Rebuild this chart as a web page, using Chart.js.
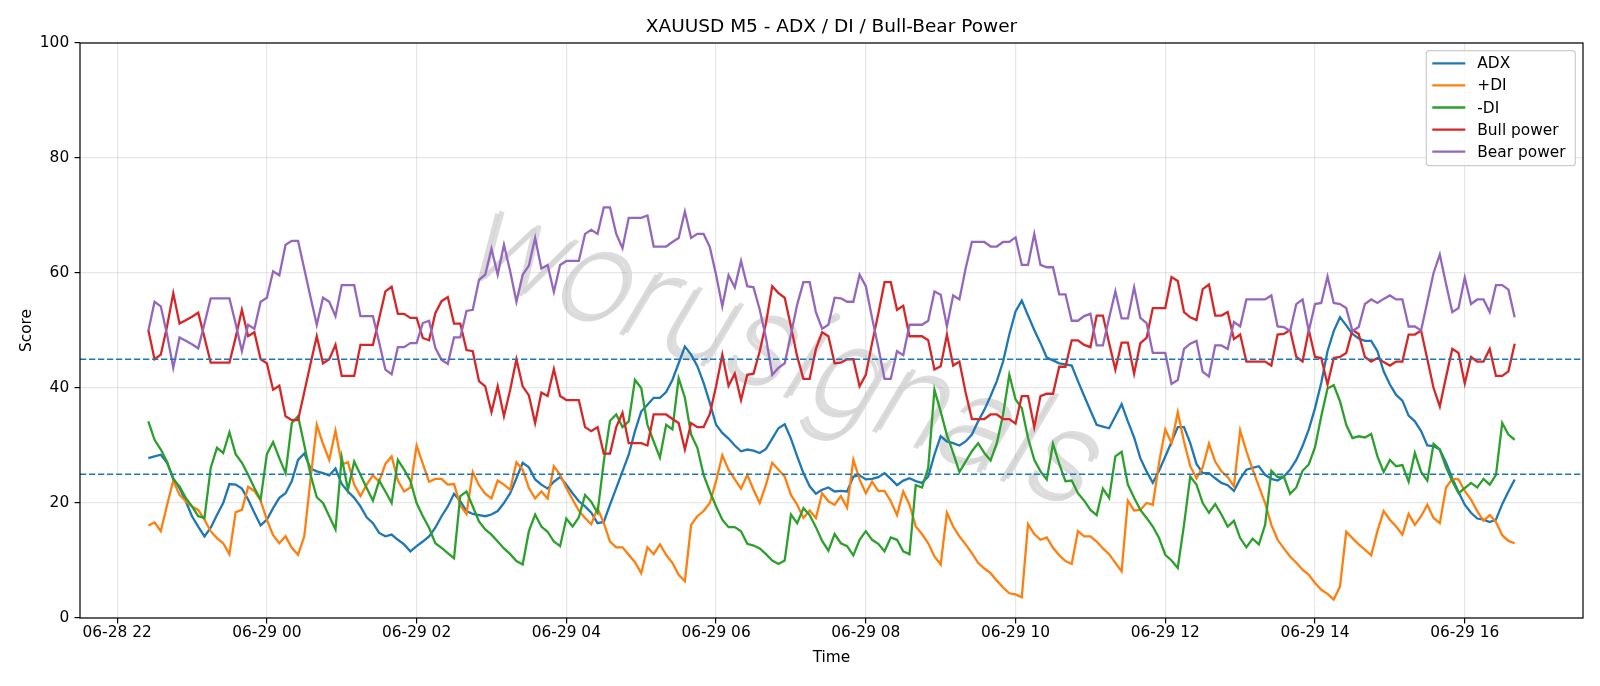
<!DOCTYPE html>
<html>
<head>
<meta charset="utf-8">
<title>XAUUSD M5 - ADX / DI / Bull-Bear Power</title>
<script src="https://cdn.jsdelivr.net/npm/chart.js@4.4.1/dist/chart.umd.min.js"></script>
<style>
  html, body { margin: 0; padding: 0; background: #fff; }
</style>
</head>
<body>
<canvas id="adxChart" width="1600" height="686"></canvas>
<script>
// time axis: hours after 06-28 22:00, first M5 bar at 22:25
var firstBar = 25 / 60;
var barStep = 5 / 60;
var tickHours = [0, 2, 4, 6, 8, 10, 12, 14, 16, 18];
var tickLabels = ["06-28 22", "06-29 00", "06-29 02", "06-29 04", "06-29 06",
                  "06-29 08", "06-29 10", "06-29 12", "06-29 14", "06-29 16"];
var levels = [45, 25];

var adx = [
  27.8, 28.1, 28.4, 27.0, 24.3, 22.6, 20.3, 17.7, 15.9, 14.2,
  15.7, 17.9, 20.0, 23.3, 23.2, 22.5, 20.6, 18.3, 16.1, 17.1,
  19.1, 20.9, 21.7, 23.8, 27.5, 28.6, 26.0, 25.5, 25.2, 24.8,
  26.0, 23.3, 22.0, 20.9, 19.4, 17.5, 16.5, 14.8, 14.2, 14.5,
  13.6, 12.8, 11.6, 12.5, 13.3, 14.2, 15.7, 17.7, 19.4, 21.6,
  20.3, 18.6, 18.1, 17.9, 17.7, 18.0, 18.6, 20.0, 21.7, 24.3,
  27.0, 26.2, 24.1, 23.2, 22.5, 23.7, 24.5, 23.2, 21.7, 20.3,
  19.4, 18.3, 16.5, 16.7, 19.7, 22.6, 25.5, 28.4, 32.5, 35.9,
  37.1, 38.3, 38.3, 39.3, 41.4, 44.3, 47.2, 45.8, 43.8, 40.9,
  37.4, 33.6, 32.2, 31.2, 30.0, 29.0, 29.3, 29.1, 28.7, 29.4,
  31.2, 33.0, 33.7, 31.2, 28.1, 25.2, 22.9, 21.6, 22.3, 22.7,
  22.0, 22.1, 22.0, 24.6, 24.8, 24.1, 24.2, 24.5, 25.2, 24.2,
  23.1, 23.9, 24.3, 23.8, 23.5, 24.6, 28.4, 31.6, 30.7, 30.4,
  30.0, 30.7, 31.9, 34.2, 36.2, 38.6, 41.2, 44.6, 49.3, 53.3,
  55.2, 52.6, 50.1, 47.8, 45.3, 44.8, 44.3, 44.1, 43.9, 41.2,
  38.6, 36.1, 33.6, 33.3, 33.0, 35.1, 37.2, 34.2, 31.4, 27.8,
  25.5, 23.5, 25.6, 28.1, 30.6, 33.2, 33.2, 30.4, 26.8, 25.2,
  25.2, 24.3, 23.5, 23.1, 22.1, 24.2, 25.8, 26.1, 26.4, 24.9,
  24.2, 23.9, 24.6, 25.8, 27.5, 29.9, 32.8, 36.5, 40.9, 46.4,
  49.9, 52.3, 50.9, 49.4, 48.6, 48.2, 48.2, 46.4, 42.9, 40.6,
  38.8, 37.8, 35.2, 34.2, 32.5, 30.0, 29.9, 29.3, 27.0, 24.3,
  21.9, 19.7, 18.3, 17.3, 17.1, 16.7, 17.1, 19.8, 22.0, 24.1
];

var plusDI = [
  16.1, 16.6, 15.1, 19.6, 23.9, 21.4, 20.3, 19.4, 18.8, 17.1,
  15.1, 13.9, 13.0, 11.1, 18.4, 18.8, 22.8, 22.1, 20.4, 17.1,
  14.4, 13.0, 14.2, 12.2, 11.0, 14.2, 24.1, 33.6, 30.3, 27.5,
  32.6, 26.7, 27.1, 23.2, 21.2, 23.2, 24.8, 23.7, 26.8, 28.1,
  23.9, 22.0, 22.7, 30.0, 26.8, 23.7, 24.2, 24.2, 23.2, 23.3,
  19.6, 18.1, 25.4, 23.1, 21.6, 20.8, 23.9, 23.2, 22.3, 27.1,
  25.8, 22.6, 20.8, 22.0, 20.8, 26.4, 24.9, 22.6, 20.6, 18.7,
  17.4, 16.3, 19.1, 16.5, 13.3, 12.3, 12.3, 11.0, 9.7, 7.8,
  12.3, 11.1, 12.8, 11.0, 9.6, 7.5, 6.4, 16.2, 17.7, 18.6,
  20.0, 23.8, 28.3, 25.8, 24.1, 22.5, 24.9, 22.3, 20.0, 23.2,
  27.0, 25.8, 24.6, 21.4, 19.7, 17.4, 18.7, 17.4, 21.7, 20.3,
  19.7, 21.2, 19.2, 27.5, 24.1, 21.7, 23.7, 22.1, 22.1, 20.3,
  17.9, 22.0, 19.7, 15.9, 14.6, 13.0, 10.7, 9.3, 18.3, 15.9,
  14.2, 12.8, 11.3, 9.6, 8.6, 7.8, 6.5, 5.3, 4.3, 4.1,
  3.6, 16.3, 14.6, 13.6, 14.0, 12.2, 10.9, 9.9, 9.4, 15.1,
  14.2, 14.2, 13.3, 12.1, 11.1, 9.6, 8.1, 20.4, 18.7, 18.8,
  20.0, 19.7, 27.0, 32.8, 30.4, 35.8, 30.7, 26.4, 24.3, 26.2,
  30.3, 27.2, 25.5, 24.5, 22.9, 32.6, 29.0, 25.8, 22.9, 20.0,
  16.2, 13.6, 12.1, 10.7, 9.6, 8.4, 7.5, 6.1, 4.9, 4.2,
  3.2, 5.5, 15.0, 13.9, 12.8, 11.9, 10.9, 15.1, 18.6, 17.1,
  15.9, 14.5, 18.1, 16.2, 17.7, 19.7, 17.4, 16.5, 22.7, 24.2,
  24.1, 22.1, 20.6, 18.6, 16.9, 17.9, 16.7, 14.4, 13.4, 13.0
];

var minusDI = [
  34.2, 31.0, 29.3, 27.2, 24.1, 22.9, 20.9, 19.4, 17.7, 17.4,
  26.1, 29.6, 28.7, 32.3, 28.5, 27.0, 24.9, 22.6, 20.6, 28.5,
  30.6, 27.8, 25.2, 33.9, 35.1, 30.1, 24.9, 21.0, 20.0, 17.7,
  15.4, 27.9, 22.3, 27.2, 24.9, 22.6, 20.4, 23.9, 22.0, 20.0,
  27.5, 25.8, 23.9, 20.0, 17.7, 15.7, 13.0, 12.2, 11.3, 10.4,
  21.2, 22.0, 19.4, 16.8, 15.4, 14.5, 13.3, 12.1, 11.1, 9.9,
  9.3, 15.1, 18.0, 15.9, 15.0, 13.3, 12.5, 17.3, 15.9, 17.5,
  21.4, 20.2, 18.3, 27.2, 34.3, 35.4, 33.2, 34.2, 41.4, 40.0,
  33.6, 30.7, 27.9, 33.6, 32.8, 41.7, 38.3, 31.9, 29.6, 24.9,
  22.0, 19.4, 17.1, 15.8, 15.8, 15.1, 12.9, 12.6, 12.1, 11.1,
  10.0, 9.4, 10.0, 18.0, 16.5, 19.1, 17.9, 15.8, 13.4, 11.7,
  14.6, 13.0, 12.5, 10.9, 13.6, 15.1, 13.6, 12.9, 11.6, 14.0,
  13.6, 11.6, 11.1, 23.1, 22.7, 26.1, 39.7, 35.9, 31.8, 28.7,
  25.4, 27.2, 29.0, 30.4, 28.7, 27.4, 30.4, 35.4, 42.3, 38.0,
  36.5, 31.3, 27.5, 25.5, 24.1, 30.3, 26.8, 23.8, 23.9, 21.7,
  20.4, 18.8, 17.9, 22.5, 20.9, 28.1, 28.9, 23.2, 20.9, 18.8,
  17.4, 15.9, 13.9, 11.0, 10.0, 8.7, 16.2, 24.6, 23.2, 20.0,
  18.3, 19.8, 18.0, 15.9, 16.9, 13.9, 12.3, 13.8, 12.8, 16.2,
  25.6, 24.5, 24.6, 21.6, 22.7, 25.6, 26.7, 29.7, 35.1, 39.9,
  40.5, 37.7, 33.6, 31.3, 31.6, 31.4, 32.0, 28.1, 25.4, 27.5,
  26.4, 26.6, 23.7, 28.7, 25.4, 23.9, 30.3, 29.3, 26.2, 23.8,
  21.7, 22.6, 23.5, 22.7, 24.2, 23.2, 24.9, 33.9, 31.9, 31.0
];

var bullPower = [
  50.1, 45.0, 45.8, 50.7, 56.5, 51.2, 51.8, 52.4, 53.1, 48.8,
  44.4, 44.4, 44.4, 44.4, 48.8, 53.6, 49.0, 49.7, 45.0, 44.3,
  39.7, 40.4, 35.1, 34.4, 34.4, 39.3, 44.2, 49.0, 44.3, 45.0,
  47.5, 42.1, 42.1, 42.1, 47.5, 47.5, 47.5, 52.1, 56.8, 57.6,
  52.9, 52.9, 52.2, 52.2, 48.7, 48.3, 53.0, 55.1, 55.8, 51.2,
  51.2, 46.6, 46.4, 41.2, 40.3, 35.8, 40.3, 35.1, 39.7, 45.0,
  40.3, 38.7, 33.9, 39.2, 38.6, 43.3, 38.6, 37.9, 37.9, 37.9,
  33.2, 32.5, 33.2, 28.6, 28.6, 33.2, 35.7, 30.4, 30.4, 30.4,
  30.0, 35.4, 35.4, 35.4, 34.6, 33.9, 29.3, 33.9, 33.2, 33.2,
  35.5, 40.3, 45.8, 40.4, 42.5, 37.9, 42.3, 42.5, 46.4, 51.3,
  57.7, 56.5, 55.7, 50.7, 45.5, 41.6, 41.6, 46.8, 49.7, 49.0,
  44.3, 44.4, 45.0, 45.0, 40.3, 42.3, 47.8, 52.9, 58.4, 58.4,
  53.6, 54.3, 49.0, 49.0, 49.0, 48.3, 43.2, 43.8, 49.3, 43.9,
  44.6, 39.2, 34.6, 34.6, 34.6, 35.4, 35.4, 34.6, 34.6, 33.8,
  38.6, 38.6, 33.2, 38.6, 39.0, 39.0, 43.7, 43.7, 48.3, 48.3,
  47.5, 47.1, 52.6, 52.6, 47.8, 43.2, 47.9, 47.9, 42.5, 47.8,
  48.7, 53.9, 53.9, 53.9, 59.3, 58.6, 53.2, 52.3, 51.8, 57.2,
  58.0, 52.6, 52.6, 53.2, 48.5, 49.3, 44.6, 44.6, 44.6, 44.6,
  43.9, 49.3, 49.4, 50.1, 45.4, 44.6, 50.1, 45.4, 45.2, 40.6,
  45.2, 45.4, 46.1, 50.1, 49.4, 45.4, 44.6, 45.2, 44.5, 43.9,
  44.6, 44.6, 49.3, 49.3, 50.0, 45.0, 40.0, 36.8, 41.9, 46.8,
  46.1, 40.8, 45.4, 44.6, 44.6, 46.8, 42.1, 42.1, 42.9, 47.7
];

var bearPower = [
  49.9, 55.0, 54.2, 49.3, 43.5, 48.8, 48.2, 47.6, 46.9, 51.2,
  55.6, 55.6, 55.6, 55.6, 51.2, 46.4, 51.0, 50.3, 55.0, 55.7,
  60.3, 59.6, 64.9, 65.6, 65.6, 60.7, 55.8, 51.0, 55.7, 55.0,
  52.5, 57.9, 57.9, 57.9, 52.5, 52.5, 52.5, 47.9, 43.2, 42.4,
  47.1, 47.1, 47.8, 47.8, 51.3, 51.7, 47.0, 44.9, 44.2, 48.8,
  48.8, 53.4, 53.6, 58.8, 59.7, 64.2, 59.7, 64.9, 60.3, 55.0,
  59.7, 61.3, 66.1, 60.8, 61.4, 56.7, 61.4, 62.1, 62.1, 62.1,
  66.8, 67.5, 66.8, 71.4, 71.4, 66.8, 64.3, 69.6, 69.6, 69.6,
  70.0, 64.6, 64.6, 64.6, 65.4, 66.1, 70.7, 66.1, 66.8, 66.8,
  64.5, 59.7, 54.2, 59.6, 57.5, 62.1, 57.7, 57.5, 53.6, 48.7,
  42.3, 43.5, 44.3, 49.3, 54.5, 58.4, 58.4, 53.2, 50.3, 51.0,
  55.7, 55.6, 55.0, 55.0, 59.7, 57.7, 52.2, 47.1, 41.6, 41.6,
  46.4, 45.7, 51.0, 51.0, 51.0, 51.7, 56.8, 56.2, 50.7, 56.1,
  55.4, 60.8, 65.4, 65.4, 65.4, 64.6, 64.6, 65.4, 65.4, 66.2,
  61.4, 61.4, 66.8, 61.4, 61.0, 61.0, 56.3, 56.3, 51.7, 51.7,
  52.5, 52.9, 47.4, 47.4, 52.2, 56.8, 52.1, 52.1, 57.5, 52.2,
  51.3, 46.1, 46.1, 46.1, 40.7, 41.4, 46.8, 47.7, 48.2, 42.8,
  42.0, 47.4, 47.4, 46.8, 51.5, 50.7, 55.4, 55.4, 55.4, 55.4,
  56.1, 50.7, 50.6, 49.9, 54.6, 55.4, 49.9, 54.6, 54.8, 59.4,
  54.8, 54.6, 53.9, 49.9, 50.6, 54.6, 55.4, 54.8, 55.5, 56.1,
  55.4, 55.4, 50.7, 50.7, 50.0, 55.0, 60.0, 63.2, 58.1, 53.2,
  53.9, 59.2, 54.6, 55.4, 55.4, 53.2, 57.9, 57.9, 57.1, 52.3
];

var FONT = "'DejaVu Sans', 'Liberation Sans', sans-serif";

// x position of every bar (hours after 06-28 22:00)
function toPoints(values) {
  var pts = [];
  for (var i = 0; i < values.length; i++) {
    pts.push({ x: firstBar + i * barStep, y: values[i] });
  }
  return pts;
}

// matplotlib-like 5% margin on the time axis
var lastBar = firstBar + (adx.length - 1) * barStep;
var xPad = (lastBar - firstBar) * 0.05;

function lineSet(label, values, color, order) {
  return {
    label: label,
    data: toPoints(values),
    borderColor: color,
    backgroundColor: color,
    borderWidth: 2.3,
    pointRadius: 0,
    tension: 0,
    fill: false,
    order: order
  };
}

// faint watermark behind the lines
var watermark = {
  id: "watermark",
  beforeDatasetsDraw: function(chart) {
    var ctx = chart.ctx, a = chart.chartArea;
    ctx.save();
    ctx.translate(a.left + (a.right - a.left) * 0.47, a.top + (a.bottom - a.top) * 0.55);
    ctx.rotate(21 * Math.PI / 180);
    ctx.font = "italic 200 130px Roboto, Lato, 'Open Sans', sans-serif";
    ctx.textAlign = "center";
    ctx.textBaseline = "middle";
    ctx.fillStyle = "rgba(90,90,90,0.22)";
    ctx.fillText("worusignals", -3, 4);
    ctx.fillStyle = "rgba(212,212,212,0.8)";
    ctx.fillText("worusignals", 0, 0);
    ctx.restore();
  }
};

// dashed reference levels 45 / 25
var levelLines = {
  id: "levelLines",
  afterDatasetsDraw: function(chart) {
    var ctx = chart.ctx, a = chart.chartArea, y = chart.scales.y;
    ctx.save();
    ctx.strokeStyle = "#1f77b4";
    ctx.lineWidth = 1.6;
    ctx.setLineDash([6.3, 2.7]);
    levels.forEach(function(v) {
      var py = y.getPixelForValue(v);
      ctx.beginPath();
      ctx.moveTo(a.left, py);
      ctx.lineTo(a.right, py);
      ctx.stroke();
    });
    ctx.restore();
  }
};

// axes box + legend in the upper right
var frameAndLegend = {
  id: "frameAndLegend",
  afterDraw: function(chart) {
    var ctx = chart.ctx, a = chart.chartArea;
    ctx.save();
    ctx.strokeStyle = "#000";
    ctx.lineWidth = 1.2;
    ctx.strokeRect(a.left, a.top, a.right - a.left, a.bottom - a.top);

    var w = 149, h = 115;
    var right = a.right - 7.7, top = a.top + 7.7, left = right - w;
    ctx.beginPath();
    ctx.roundRect(left, top, w, h, 3);
    ctx.fillStyle = "rgba(255,255,255,0.8)";
    ctx.fill();
    ctx.strokeStyle = "#cccccc";
    ctx.lineWidth = 1.2;
    ctx.stroke();

    ctx.font = "15.4px " + FONT;
    ctx.textBaseline = "middle";
    ctx.textAlign = "left";
    chart.data.datasets.forEach(function(ds, i) {
      var ly = top + 12.6 + i * 22.1;
      ctx.strokeStyle = ds.borderColor;
      ctx.lineWidth = 2.3;
      ctx.beginPath();
      ctx.moveTo(left + 6, ly);
      ctx.lineTo(left + 39, ly);
      ctx.stroke();
      ctx.fillStyle = "#000";
      ctx.fillText(ds.label, left + 51, ly + 1);
    });
    ctx.restore();
  }
};

var gridStyle = {
  color: "rgba(176,176,176,0.3)",
  lineWidth: 1.2,
  tickColor: "#000",
  tickLength: 5.4,
  tickWidth: 1.2
};

new Chart(document.getElementById("adxChart"), {
  type: "line",
  data: {
    datasets: [
      lineSet("ADX", adx, "#1f77b4", 5),
      lineSet("+DI", plusDI, "#ff7f0e", 4),
      lineSet("-DI", minusDI, "#2ca02c", 3),
      lineSet("Bull power", bullPower, "#d62728", 2),
      lineSet("Bear power", bearPower, "#9467bd", 1)
    ]
  },
  options: {
    responsive: false,
    animation: false,
    devicePixelRatio: 1,
    layout: { padding: { left: 0, right: 17, top: 0, bottom: 0 } },
    plugins: {
      legend: { display: false },
      tooltip: { enabled: false },
      title: {
        display: true,
        fullSize: false,
        text: "XAUUSD M5 - ADX / DI / Bull-Bear Power",
        color: "#000",
        font: { family: FONT, size: 18.5, weight: "normal" },
        padding: { top: 16.5, bottom: 4.3 }
      }
    },
    scales: {
      x: {
        type: "linear",
        min: firstBar - xPad,
        max: lastBar + xPad,
        afterBuildTicks: function(scale) {
          scale.ticks = tickHours.map(function(h) { return { value: h }; });
        },
        ticks: {
          color: "#000",
          font: { family: FONT, size: 15.4 },
          padding: 0,
          maxRotation: 0,
          autoSkip: false,
          callback: function(v) { return tickLabels[tickHours.indexOf(v)]; }
        },
        grid: gridStyle,
        border: { display: false },
        title: {
          display: true,
          text: "Time",
          color: "#000",
          font: { family: FONT, size: 15.4 },
          padding: { top: 0, bottom: 18.8 }
        },
        afterFit: function(scale) { scale.height = 68; }
      },
      y: {
        min: 0,
        max: 100,
        ticks: {
          stepSize: 20,
          color: "#000",
          font: { family: FONT, size: 15.4 },
          padding: 5.4
        },
        grid: gridStyle,
        border: { display: false },
        title: {
          display: true,
          text: "Score",
          color: "#000",
          font: { family: FONT, size: 15.4 },
          padding: { top: 17.3, bottom: 0 }
        },
        afterFit: function(scale) { scale.width = 80; }
      }
    }
  },
  plugins: [watermark, levelLines, frameAndLegend]
});
</script>
</body>
</html>
